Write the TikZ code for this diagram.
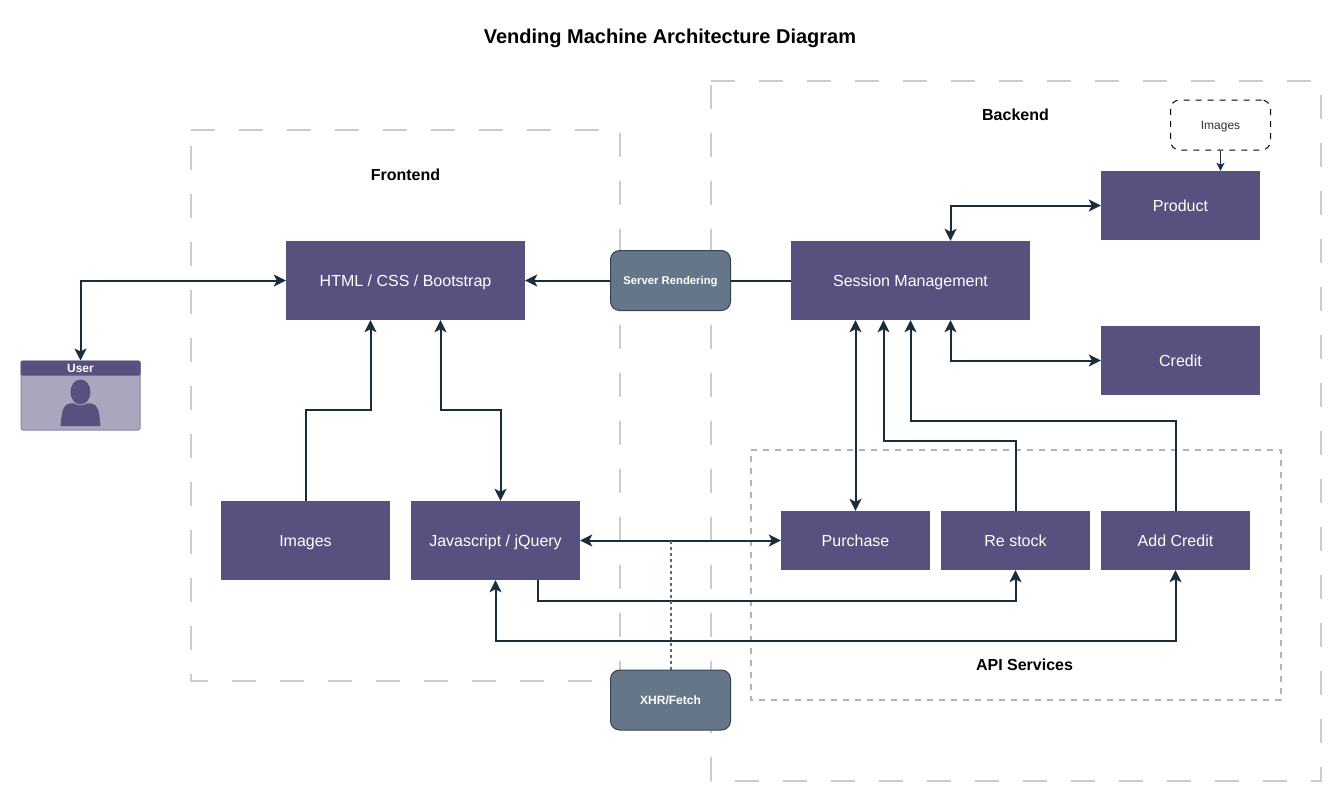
\documentclass[tikz,border=0pt]{standalone}
\usepackage{fontspec}
\setmainfont{Liberation Sans}
\usepackage{xcolor}
\usetikzlibrary{arrows.meta,positioning,calc}
\definecolor{boxpurple}{HTML}{56517E}
\definecolor{userpurple}{HTML}{A9A6BE}
\definecolor{slategray}{HTML}{647687}
\definecolor{slateedge}{HTML}{314354}
\definecolor{linkdark}{HTML}{182E3E}
\newcommand{\fsize}[1]{\fontsize{#1}{#1}\selectfont}
\tikzset{
  purplebox/.style={fill=boxpurple,text=white,inner sep=0pt,text height=11.5pt,text depth=0pt,font=\fsize{16}},
  slatebox/.style={fill=slategray,draw=slateedge,line width=1pt,rounded corners=9pt,text=white,inner sep=0pt,minimum width=120pt,minimum height=60pt,text height=8.5pt,text depth=0pt,font=\bfseries\fsize{12}},
  caption/.style={font=\bfseries\fsize{16},text=black,inner sep=0pt},
  link/.style={draw=linkdark,line width=2pt},
  onearrow/.style={link,-{Stealth[length=12pt,width=12pt,inset=3pt]}},
  twoarrow/.style={link,{Stealth[length=12pt,width=12pt,inset=3pt]}-{Stealth[length=12pt,width=12pt,inset=3pt]}},
  region/.style={draw=black!20,line width=2pt,dash pattern=on 24pt off 24pt},
}
\begin{document}
\begin{tikzpicture}[x=1pt,y=-1pt]
  \useasboundingbox (0,0) rectangle (1341,801);
  % dashed regions
  \draw[region] (190.5,130) -- (620,130) -- (620,680.5) -- (190.5,680.5) -- cycle;
  \draw[region] (710.5,80.5) -- (1320.5,80.5) -- (1320.5,780.5) -- (710.5,780.5) -- cycle;
  \draw[draw=black!30,line width=2pt,dash pattern=on 6pt off 6pt] (750.5,450) -- (1280.5,450) -- (1280.5,700) -- (750.5,700) -- cycle;
  % texts
  \node[caption,font=\bfseries\fsize{20},text height=14.5pt,text depth=0pt] (title) at (670,36) {Vending Machine Architecture Diagram};
  \node[caption] (frontend) at (405.5,175) {Frontend};
  \node[caption] (backend) at (1015.5,115) {Backend};
  \node[caption] (apiservices) at (1024.5,665) {API Services};
  % boxes
  \node[purplebox,minimum width=239pt,minimum height=79pt] (html) at (405.5,280.5) {HTML / CSS / Bootstrap};
  \node[purplebox,minimum width=239pt,minimum height=79pt] (session) at (910.5,280.5) {Session Management};
  \node[purplebox,minimum width=159pt,minimum height=69pt] (product) at (1180.5,205.5) {Product};
  \node[purplebox,minimum width=159pt,minimum height=69pt] (credit) at (1180.5,360.5) {Credit};
  \node[purplebox,minimum width=169pt,minimum height=79pt] (images) at (305.5,540.5) {Images};
  \node[purplebox,minimum width=169pt,minimum height=79pt] (jquery) at (495.5,540.5) {Javascript / jQuery};
  \node[purplebox,minimum width=149pt,minimum height=59pt] (purchase) at (855.5,540.5) {Purchase};
  \node[purplebox,minimum width=149pt,minimum height=59pt] (restock) at (1015.5,540.5) {Re stock};
  \node[purplebox,minimum width=149pt,minimum height=59pt] (addcredit) at (1175.5,540.5) {Add Credit};
  \node[slatebox,font=\bfseries\fsize{11.3}] (rendering) at (670.5,280.5) {Server Rendering};
  \node[slatebox] (xhr) at (670.5,700) {XHR/Fetch};
  \node[draw=black,line width=1pt,dash pattern=on 6pt off 6pt,rounded corners=9pt,minimum width=100pt,minimum height=50pt,inner sep=0pt,text height=8.5pt,text depth=0pt,text=black!80,font=\fsize{12}] (stored) at (1220.5,125) {Images};
  % user card
  \node[fill=userpurple,draw=boxpurple!70,line width=1pt,rounded corners=1.5pt,minimum width=119pt,minimum height=69pt,inner sep=0pt] (user) at (80.5,395.5) {};
  \fill[boxpurple,rounded corners=1.5pt] (user.north west) rectangle ([yshift=-15pt]user.north east);
  \node[text=white,inner sep=0pt,font=\bfseries\fsize{12}] (usertitle) at (80.5,368) {User};
  \fill[boxpurple] (80.5,392) ellipse (10pt and 12.5pt);
  \fill[boxpurple] (60.5,426) .. controls (61.5,416) and (62,408) .. (66,405) .. controls (70,403) and (72,403) .. (74,403.5)
    .. controls (78,406) and (83,406) .. (87,403.5) .. controls (90,403) and (92,403) .. (95,405)
    .. controls (99,408) and (99.5,416) .. (100.5,426) -- cycle;
  % connectors
  \draw[twoarrow] (user.north) |- (html.west);
  \draw[link] (session.west) -- (rendering.east);
  \draw[onearrow] (rendering.west) -- (html.east);
  \coordinate (imgbend) at (370.5,410);
  \coordinate (jqbend) at (440.5,410);
  \draw[onearrow] (images.north) |- (imgbend) -- (imgbend |- html.south);
  \draw[twoarrow] (jqbend |- html.south) -- (jqbend) -| ([xshift=5pt]jquery.north);
  \draw[twoarrow] ([xshift=40pt]session.north) |- (product.west);
  \draw[twoarrow] ([xshift=40pt]session.south) |- (credit.west);
  \draw[twoarrow] (purchase.north) -- (purchase.north |- session.south);
  \coordinate (stockbend) at (883.5,440.5);
  \coordinate (addbend) at (910.5,420.5);
  \draw[onearrow] (restock.north) |- (stockbend) -- (stockbend |- session.south);
  \draw[onearrow] (addcredit.north) |- (addbend) -- (session.south);
  \draw[twoarrow] (jquery.east) -- (purchase.west);
  \coordinate (stocklane) at (537.5,600.5);
  \coordinate (creditlane) at (495.5,640.5);
  \draw[onearrow] (stocklane |- jquery.south) -- (stocklane) -| (restock.south);
  \draw[twoarrow] (jquery.south) |- (creditlane) -| (addcredit.south);
  \draw[draw=slateedge!80,line width=2pt,dash pattern=on 2.4pt off 3.6pt] (xhr.north) -- (xhr.north |- jquery.east);
  \draw[draw=linkdark,line width=1.5pt,-{Stealth[length=8pt,width=8pt,inset=2pt]}] (stored.south) -- (stored.south |- product.north);
\end{tikzpicture}
\end{document}
